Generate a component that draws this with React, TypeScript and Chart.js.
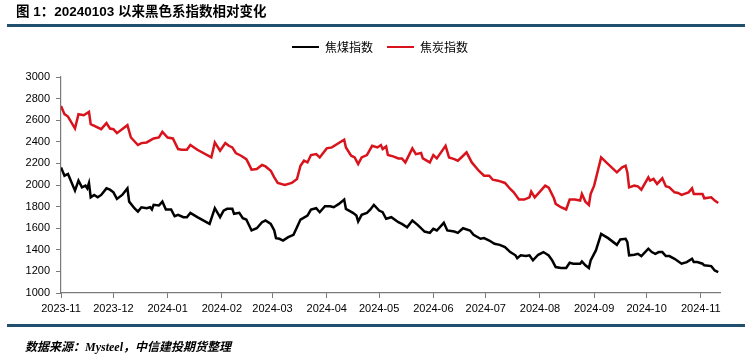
import React, { useEffect, useRef } from "react";
import { Chart, registerables } from "chart.js";

Chart.register(...registerables);

const titleText = "图 1：20240103 以来黑色系指数相对变化";
const seriesNames = ["焦煤指数", "焦炭指数"];
const seriesColors = ["#000000", "#d9131c"];

const monthTickDates = [
  "2023-11-01", "2023-12-01", "2024-01-01", "2024-02-01", "2024-03-01", "2024-04-01", "2024-05-01",
  "2024-06-01", "2024-07-01", "2024-08-01", "2024-09-01", "2024-10-01", "2024-11-01",
];
const monthTickLabels = [
  "2023-11", "2023-12", "2024-01", "2024-02", "2024-03", "2024-04", "2024-05",
  "2024-06", "2024-07", "2024-08", "2024-09", "2024-10", "2024-11",
];
const axisStartDate = "2023-11-01";
const axisEndDate = "2024-11-12";
const yMin = 1000;
const yMax = 3000;
const yStep = 200;

// 焦煤指数
const coalDates = [
  "2023-11-01", "2023-11-03", "2023-11-05", "2023-11-09", "2023-11-11", "2023-11-13", "2023-11-15", "2023-11-16",
  "2023-11-17", "2023-11-18", "2023-11-20", "2023-11-22", "2023-11-24", "2023-11-27", "2023-11-29", "2023-12-01",
  "2023-12-03", "2023-12-06", "2023-12-09", "2023-12-10", "2023-12-13", "2023-12-15", "2023-12-17", "2023-12-20",
  "2023-12-22", "2023-12-23", "2023-12-24", "2023-12-27", "2023-12-29", "2023-12-31", "2024-01-03", "2024-01-05",
  "2024-01-07", "2024-01-10", "2024-01-12", "2024-01-14", "2024-01-18", "2024-01-25", "2024-01-28", "2024-01-31",
  "2024-02-02", "2024-02-04", "2024-02-07", "2024-02-08", "2024-02-11", "2024-02-13", "2024-02-15", "2024-02-18",
  "2024-02-21", "2024-02-24", "2024-02-26", "2024-02-29", "2024-03-02", "2024-03-03", "2024-03-05", "2024-03-07",
  "2024-03-10", "2024-03-13", "2024-03-15", "2024-03-17", "2024-03-21", "2024-03-23", "2024-03-26", "2024-03-28",
  "2024-03-31", "2024-04-03", "2024-04-05", "2024-04-08", "2024-04-11", "2024-04-12", "2024-04-16", "2024-04-18",
  "2024-04-19", "2024-04-21", "2024-04-24", "2024-04-26", "2024-04-28", "2024-05-01", "2024-05-03", "2024-05-05",
  "2024-05-08", "2024-05-12", "2024-05-14", "2024-05-17", "2024-05-20", "2024-05-23", "2024-05-27", "2024-05-30",
  "2024-06-01", "2024-06-03", "2024-06-07", "2024-06-09", "2024-06-13", "2024-06-15", "2024-06-18", "2024-06-22",
  "2024-06-24", "2024-06-28", "2024-06-30", "2024-07-03", "2024-07-06", "2024-07-09", "2024-07-12", "2024-07-15",
  "2024-07-18", "2024-07-19", "2024-07-21", "2024-07-24", "2024-07-26", "2024-07-28", "2024-07-31", "2024-08-03",
  "2024-08-06", "2024-08-08", "2024-08-10", "2024-08-13", "2024-08-16", "2024-08-18", "2024-08-20", "2024-08-24",
  "2024-08-25", "2024-08-27", "2024-08-29", "2024-08-30", "2024-09-02", "2024-09-05", "2024-09-09", "2024-09-14",
  "2024-09-16", "2024-09-19", "2024-09-20", "2024-09-21", "2024-09-24", "2024-09-26", "2024-09-28", "2024-10-02",
  "2024-10-04", "2024-10-06", "2024-10-08", "2024-10-10", "2024-10-12", "2024-10-14", "2024-10-17", "2024-10-21",
  "2024-10-24", "2024-10-27", "2024-10-28", "2024-10-30", "2024-11-02", "2024-11-03", "2024-11-07", "2024-11-09",
  "2024-11-11",
];
const coalValues = [
  2163, 2086, 2102, 1948, 2040, 1978, 1994, 1969,
  2019, 1886, 1908, 1886, 1908, 1969, 1957, 1932,
  1871, 1908, 1969, 1846, 1785, 1754, 1794, 1785,
  1794, 1773, 1816, 1810, 1846, 1773, 1773, 1711,
  1724, 1702, 1702, 1742, 1702, 1640, 1785, 1702,
  1763, 1779, 1779, 1733, 1742, 1693, 1680, 1579,
  1600, 1656, 1671, 1640, 1579, 1508, 1502, 1486,
  1517, 1539, 1609, 1680, 1717, 1773, 1785, 1748,
  1803, 1803, 1794, 1825, 1865, 1779, 1742, 1717,
  1662, 1724, 1742, 1773, 1816, 1763, 1748, 1687,
  1702, 1656, 1640, 1609, 1671, 1631, 1569, 1557,
  1594, 1579, 1650, 1579, 1569, 1557, 1600, 1579,
  1539, 1502, 1508, 1486, 1456, 1446, 1425, 1379,
  1349, 1323, 1349, 1342, 1349, 1302, 1354, 1379,
  1348, 1302, 1240, 1231, 1231, 1280, 1271, 1271,
  1292, 1256, 1231, 1302, 1394, 1548, 1508, 1446,
  1496, 1502, 1471, 1349, 1354, 1363, 1342, 1410,
  1379, 1363, 1379, 1379, 1342, 1342, 1317, 1271,
  1286, 1317, 1286, 1286, 1271, 1256, 1249, 1209,
  1194,
];

// 焦炭指数
const cokeDates = [
  "2023-11-01", "2023-11-03", "2023-11-05", "2023-11-09", "2023-11-11", "2023-11-14", "2023-11-17", "2023-11-18",
  "2023-11-24", "2023-11-27", "2023-11-29", "2023-12-01", "2023-12-03", "2023-12-09", "2023-12-11", "2023-12-15",
  "2023-12-17", "2023-12-20", "2023-12-24", "2023-12-27", "2023-12-29", "2024-01-01", "2024-01-04", "2024-01-07",
  "2024-01-09", "2024-01-12", "2024-01-14", "2024-01-18", "2024-01-26", "2024-01-28", "2024-01-31", "2024-02-03",
  "2024-02-05", "2024-02-07", "2024-02-09", "2024-02-12", "2024-02-15", "2024-02-16", "2024-02-18", "2024-02-21",
  "2024-02-24", "2024-02-26", "2024-02-29", "2024-03-02", "2024-03-04", "2024-03-08", "2024-03-12", "2024-03-15",
  "2024-03-17", "2024-03-19", "2024-03-21", "2024-03-23", "2024-03-26", "2024-03-28", "2024-04-01", "2024-04-04",
  "2024-04-07", "2024-04-11", "2024-04-12", "2024-04-15", "2024-04-17", "2024-04-19", "2024-04-21", "2024-04-24",
  "2024-04-27", "2024-04-30", "2024-05-02", "2024-05-03", "2024-05-05", "2024-05-06", "2024-05-09", "2024-05-12",
  "2024-05-14", "2024-05-16", "2024-05-20", "2024-05-22", "2024-05-25", "2024-05-26", "2024-05-30", "2024-06-01",
  "2024-06-03", "2024-06-08", "2024-06-10", "2024-06-13", "2024-06-15", "2024-06-17", "2024-06-20", "2024-06-23",
  "2024-06-27", "2024-06-30", "2024-07-03", "2024-07-05", "2024-07-08", "2024-07-12", "2024-07-15", "2024-07-17",
  "2024-07-20", "2024-07-23", "2024-07-26", "2024-07-27", "2024-07-29", "2024-08-01", "2024-08-04", "2024-08-06",
  "2024-08-09", "2024-08-10", "2024-08-13", "2024-08-16", "2024-08-18", "2024-08-21", "2024-08-24", "2024-08-25",
  "2024-08-27", "2024-08-29", "2024-08-30", "2024-09-01", "2024-09-05", "2024-09-09", "2024-09-14", "2024-09-17",
  "2024-09-19", "2024-09-20", "2024-09-21", "2024-09-24", "2024-09-26", "2024-09-28", "2024-10-02", "2024-10-03",
  "2024-10-05", "2024-10-07", "2024-10-10", "2024-10-12", "2024-10-14", "2024-10-17", "2024-10-19", "2024-10-21",
  "2024-10-25", "2024-10-27", "2024-10-28", "2024-10-30", "2024-11-02", "2024-11-03", "2024-11-07", "2024-11-09",
  "2024-11-11",
];
const cokeValues = [
  2732, 2656, 2634, 2523, 2656, 2646, 2677, 2563,
  2517, 2573, 2523, 2517, 2480, 2554, 2440, 2370,
  2388, 2394, 2431, 2440, 2492, 2440, 2431, 2333,
  2326, 2326, 2370, 2326, 2255, 2394, 2317, 2388,
  2363, 2348, 2296, 2271, 2240, 2209, 2142, 2148,
  2185, 2172, 2132, 2071, 2019, 2000, 2019, 2056,
  2178, 2225, 2209, 2277, 2286, 2255, 2339, 2348,
  2379, 2419, 2348, 2271, 2255, 2194, 2255, 2277,
  2363, 2348, 2370, 2333, 2357, 2277, 2265, 2246,
  2246, 2209, 2339, 2286, 2296, 2246, 2209, 2277,
  2246, 2363, 2255, 2240, 2225, 2255, 2302, 2209,
  2132, 2086, 2086, 2049, 2040, 2019, 1963, 1932,
  1865, 1865, 1886, 1939, 1886, 1939, 1994, 1975,
  1877, 1825, 1794, 1773, 1865, 1865, 1856, 1917,
  1846, 1816, 1917, 1994, 2255, 2194, 2117, 2163,
  2178, 2117, 1978, 1994, 1988, 1957, 2071, 2040,
  2056, 2010, 2062, 1988, 1978, 1932, 1926, 1908,
  1932, 1969, 1917, 1917, 1917, 1877, 1886, 1856,
  1834,
];

const DAY = 86400000;
function dayOffset(d: string): number {
  const [y, m, dd] = d.split("-").map(Number);
  const [y0, m0, d0] = axisStartDate.split("-").map(Number);
  return Math.round((Date.UTC(y, m - 1, dd) - Date.UTC(y0, m0 - 1, d0)) / DAY);
}

// Legend placement helper: extra space under the legend and horizontal offset of its box
const legendPlacement = {
  id: "legendPlacement",
  beforeLayout(chart: any) {
    const lg = chart.legend;
    if (lg && !lg._patchedFit) {
      const orig = lg.fit.bind(lg);
      lg.fit = function () {
        orig();
        this.height += 14;
      };
      lg._patchedFit = true;
    }
  },
  afterLayout(chart: any) {
    const lg = chart.legend;
    if (lg) {
      lg.left = 40;
    }
  },
};

export default function App() {
  const canvasRef = useRef<HTMLCanvasElement | null>(null);

  useEffect(() => {
    if (!canvasRef.current) return;
    const tickValues = monthTickDates.map(dayOffset);
    const seriesDates = [coalDates, cokeDates];
    const seriesValues = [coalValues, cokeValues];
    const chart = new Chart(canvasRef.current, {
      type: "line",
      data: {
        datasets: seriesNames.map((name, si) => ({
          label: name,
          data: seriesDates[si].map((d, i) => ({ x: dayOffset(d), y: seriesValues[si][i] })),
          borderColor: seriesColors[si],
          backgroundColor: seriesColors[si],
          borderWidth: 2.5,
          pointRadius: 0,
          tension: 0,
          fill: false,
        })),
      },
      plugins: [legendPlacement],
      options: {
        animation: false,
        responsive: false,
        maintainAspectRatio: false,
        layout: { padding: { top: 27, left: 0, right: 25, bottom: 40 } },
        plugins: {
          tooltip: { enabled: false },
          legend: {
            display: true,
            position: "top",
            align: "center",
            labels: {
              boxWidth: 27,
              boxHeight: 2,
              padding: 14,
              color: "#000",
              font: { family: "'Noto Sans CJK SC', 'Liberation Sans', sans-serif", size: 12 },
              generateLabels: (c: any) =>
                Chart.defaults.plugins.legend.labels.generateLabels(c).map((l: any) => ({
                  ...l,
                  lineWidth: 0,
                })),
            },
          },
        },
        scales: {
          x: {
            type: "linear",
            min: 0,
            max: dayOffset(axisEndDate),
            afterFit: (s: any) => {
              s.height = 24;
            },
            afterBuildTicks: (s: any) => {
              s.ticks = tickValues.map((v) => ({ value: v }));
            },
            ticks: {
              autoSkip: false,
              maxRotation: 0,
              padding: 4,
              color: "#000",
              font: { family: "'Liberation Sans', Arial, sans-serif", size: 11 },
              callback: (v: any) => {
                const idx = tickValues.indexOf(Number(v));
                return idx >= 0 ? monthTickLabels[idx] : "";
              },
            },
            grid: {
              drawOnChartArea: false,
              drawTicks: true,
              tickLength: 5,
              color: "#7a7a7a",
            },
            border: { display: true, color: "#7a7a7a", width: 1.2 },
          },
          y: {
            type: "linear",
            min: yMin,
            max: yMax,
            afterFit: (s: any) => {
              s.width = 61;
            },
            ticks: {
              stepSize: yStep,
              padding: 6,
              color: "#000",
              font: { family: "'Liberation Sans', Arial, sans-serif", size: 11 },
              callback: (v: any) => String(v),
            },
            grid: {
              drawOnChartArea: false,
              drawTicks: true,
              tickLength: 5,
              color: "#7a7a7a",
            },
            border: { display: true, color: "#7a7a7a", width: 1.2 },
          },
        },
      },
    });
    return () => chart.destroy();
  }, []);

  return (
    <div style={{ position: "absolute", left: 0, top: 0, width: 745, height: 357, background: "#fff", overflow: "hidden" }}>
      <canvas ref={canvasRef} width={745} height={357} style={{ position: "absolute", left: 0, top: 0 }} />
      <div
        style={{
          position: "absolute",
          left: 16,
          top: 4,
          fontFamily: "'Liberation Sans', 'Noto Sans CJK SC', sans-serif",
          fontWeight: "bold",
          fontSize: 13.5,
          lineHeight: "16px",
          color: "#000",
          whiteSpace: "nowrap",
        }}
      >
        {titleText}
      </div>
      <div style={{ position: "absolute", left: 7, top: 24, width: 738, height: 3, background: "#21506e" }} />
      <div style={{ position: "absolute", left: 7, top: 324, width: 738, height: 3, background: "#21506e" }} />
      <div
        style={{
          position: "absolute",
          left: 25,
          top: 338,
          fontSize: 12,
          lineHeight: "16px",
          fontWeight: "bold",
          fontStyle: "italic",
          color: "#000",
          whiteSpace: "nowrap",
          fontFamily: "'Noto Sans CJK SC', sans-serif",
        }}
      >
        <span>数据来源：</span>
        <span style={{ fontFamily: "'Liberation Serif', serif" }}>Mysteel</span>
        <span>，中信建投期货整理</span>
      </div>
    </div>
  );
}
